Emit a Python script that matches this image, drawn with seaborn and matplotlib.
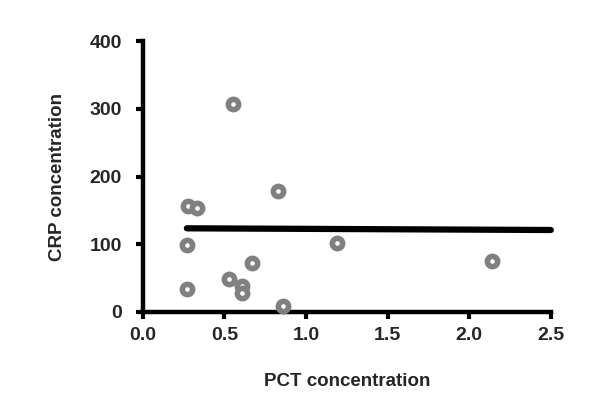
import numpy as np
import pandas as pd
import matplotlib
matplotlib.use("Agg")
import matplotlib.pyplot as plt
import seaborn as sns

# values
pct = [0.55, 0.28, 0.33, 0.83, 0.27, 1.19, 0.67, 0.53, 0.61, 0.61, 0.27, 0.86, 2.14]
crp = [307, 157, 154, 178, 99, 102, 72, 49, 39, 28, 34, 9, 75]

# fitted line as drawn in the reference
fit_x = [0.27, 2.5]
fit_y = [123.5, 121]

x_ticks = [0.0, 0.5, 1.0, 1.5, 2.0, 2.5]
y_ticks = [0, 100, 200, 300, 400]

df = pd.DataFrame({"pct": pct, "crp": crp})

sns.set_style("white")
plt.rcParams["font.family"] = ["Liberation Sans", "DejaVu Sans"]

fig = plt.figure(figsize=(6, 4.03), dpi=100)
ax = fig.add_axes([0.238, 0.226, 0.68, 0.672])

sns.lineplot(x=fit_x, y=fit_y, color="black", linewidth=4.5, ax=ax)
sns.scatterplot(data=df, x="pct", y="crp", s=55, color="white",
                edgecolor="#808080", linewidth=4, ax=ax, zorder=3)

ax.set_xlim(0, 2.5)
ax.set_ylim(0, 400)
ax.set_xticks(x_ticks)
ax.set_xticklabels([f"{t:.1f}" for t in x_ticks])
ax.set_yticks(y_ticks)

for side in ["top", "right"]:
    ax.spines[side].set_visible(False)
for side in ["left", "bottom"]:
    ax.spines[side].set_linewidth(3.2)
    ax.spines[side].set_color("black")

ax.tick_params(axis="both", direction="out", length=5, width=3, color="black",
               labelsize=14, bottom=True, left=True)
ax.tick_params(axis="y", pad=10)
ax.tick_params(axis="x", pad=6)
for lab in ax.get_xticklabels() + ax.get_yticklabels():
    lab.set_fontweight("bold")

ax.set_xlabel("PCT concentration", fontsize=13.5, fontweight="bold", labelpad=21)
ax.set_ylabel("CRP concentration", fontsize=13.5, fontweight="bold", labelpad=17)
for c in ax.collections + ax.lines:
    c.set_clip_on(False)

fig.savefig("out.png", dpi=100)
